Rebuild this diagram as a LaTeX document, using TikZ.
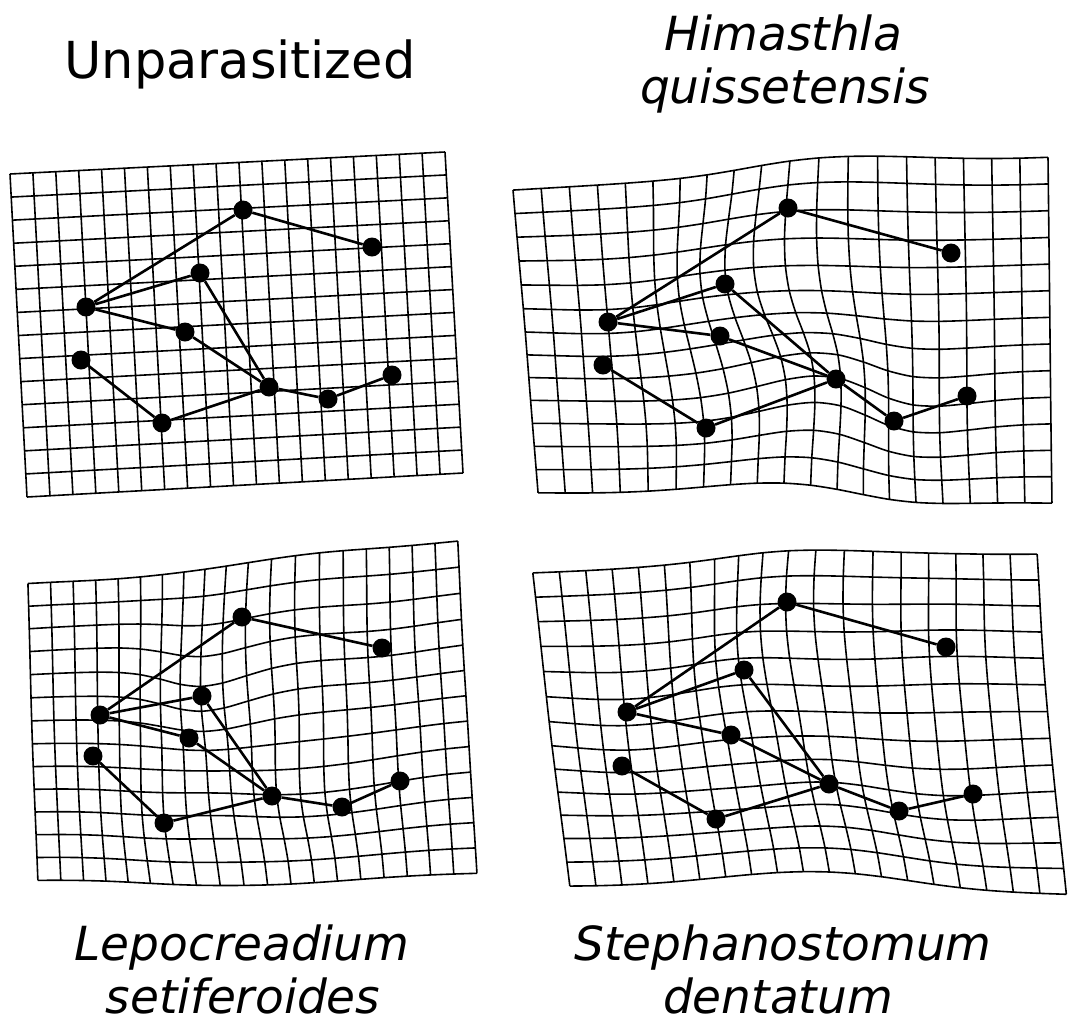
\documentclass[tikz,border=0pt]{standalone}
\usepackage{fontspec}
\setmainfont{DejaVu Sans}
\tikzset{
  gridline/.style={line width=1.6pt,line join=round},
  link/.style={line width=2.6pt},
  lm/.style={circle,fill=black,inner sep=0pt,minimum size=19pt},
  lab/.style={anchor=base,inner sep=0pt,font=\fontsize{47}{56}\selectfont\itshape},
  title/.style={anchor=base,inner sep=0pt,font=\fontsize{51}{60}\selectfont},
}
\newcommand\warpgrid[2]{%
  \foreach \i in {0,...,19}
    \draw[gridline] plot[smooth,variable=\t,domain=0:#1,samples=#2] ({fx(\i,\t)},{fy(\i,\t)});
  \foreach \j in {0,...,#1}
    \draw[gridline] plot[smooth,variable=\t,domain=0:19,samples=20] ({fx(\t,\j)},{fy(\t,\j)});
}
\begin{document}
\begin{tikzpicture}[x=1pt,y=-1pt,declare function={
  sq(\x)=\x*\x;
  g(\a,\b,\c,\d,\e,\f)=exp(-sq((\a-\c)/\e)-sq((\b-\d)/\f));
  bil(\u,\v,\p,\q,\r,\s)=(1-\u)*(1-\v)*\p+\u*(1-\v)*\q+(1-\u)*\v*\r+\u*\v*\s;}]
\useasboundingbox (0,0) rectangle (1068,1026);
\begin{scope}[declare function={
  fx(\a,\b)=bil(\a/19,\b/14,10,445,27,463);
  fy(\a,\b)=bil(\a/19,\b/14,174,152,497,473);}]
\warpgrid{14}{15}
\end{scope}
\begin{scope}[declare function={
  fx(\a,\b)=bil(\a/19,\b/13,513,1048,538,1052)-5*g(\a,\b,10.07,1.91,3,3)-17*g(\a,\b,8.05,4.36,3,3)
    +12*g(\a,\b,10.79,9.06,3,3)-5*g(\a,\b,13.34,9.67,3,3)+7*g(\a,\b,6.04,10.28,3,3)+2*g(\a,\b,3,5.49,3,3);
  fy(\a,\b)=bil(\a/19,\b/13,190,158,493,503)-8*g(\a,\b,10.07,1.91,3,3)-3*g(\a,\b,7.26,6.68,3,3)
    -28*g(\a,\b,10.79,9.06,3,3)+18*g(\a,\b,13.34,9.67,3,3)+3*g(\a,\b,6.04,10.28,3,3)
    -10*g(\a,\b,12.5,0,4,2.5)-13*g(\a,\b,8,13,4,2.5)+6*g(\a,\b,3,5.49,3,3);}]
\warpgrid{13}{14}
\end{scope}
\begin{scope}[declare function={
  fx(\a,\b)=bil(\a/19,\b/13,28,458,38,477)-7*g(\a,\b,8.5,6.5,6,4)-5*g(\a,\b,8.05,4.36,2.5,2.5)
    -8*g(\a,\b,10.07,1.91,3,3)-3*g(\a,\b,15.6,3.65,3,3)-4*g(\a,\b,13.5,9.2,3.5,2.5)
    -7*g(\a,\b,6.04,10.28,3,3)-4*g(\a,\b,10.79,9.06,2.5,2.5);
  fy(\a,\b)=bil(\a/19,\b/13,582,541,880,873)+10*g(\a,\b,8.5,6.5,6,4)+18*g(\a,\b,8.05,4.36,2.5,2.5)
    +3*g(\a,\b,10.07,1.91,3,3)+6*g(\a,\b,15.6,3.65,3,3)+10*g(\a,\b,13.5,9.2,3.5,2.5)
    +4*g(\a,\b,6.04,10.28,3,3)+4*g(\a,\b,10.79,9.06,2.5,2.5)+5*g(\a,\b,4.5,0,4,2)
    -3*g(\a,\b,13,0,4,2)+7*g(\a,\b,9.5,13,5,2.5);}]
\warpgrid{13}{14}
\end{scope}
\begin{scope}[declare function={
  fx(\a,\b)=bil(\a/19,\b/13,533,1038,570,1067)-11*g(\a,\b,11,6.5,7,5)-12*g(\a,\b,10.07,1.91,3,3)
    -6*g(\a,\b,8.05,4.36,2.5,2.5)-5*g(\a,\b,15.6,3.65,3,3)-3*g(\a,\b,15,9.2,3,3)-3*g(\a,\b,10.79,9.06,2.5,2.5);
  fy(\a,\b)=bil(\a/19,\b/13,573,555,887,895)-10*g(\a,\b,10.5,0,5,2.5)-4*g(\a,\b,10.07,1.91,3,3)
    -19*g(\a,\b,9.5,13,5.5,3)+9*g(\a,\b,2.8,6.5,3,3)+7*g(\a,\b,15,9.2,3,3)
    -6*g(\a,\b,10.79,9.06,2.5,2.5)-5*g(\a,\b,8.05,4.36,2.5,2.5)-5*g(\a,\b,15.6,3.65,3,3);}]
\warpgrid{13}{14}
\end{scope}
\foreach \n/\x/\y in {A/243/210,B/372/247,C/200/273,D/86/307,E/185/332,F/81/360,G/269/387,H/328/399,I/392/375,J/162/423}
  \node[lm] (u\n) at (\x,\y) {};
\foreach \n/\x/\y in {A/788/208,B/951/253,C/725/284,D/608/322,E/720/336,F/603/365,G/836/379,H/894/421,I/967/396,J/706/428}
  \node[lm] (h\n) at (\x,\y) {};
\foreach \n/\x/\y in {A/242/617,B/382/648,C/202/696,D/100/715,E/189/738,F/93/756,G/272/796,H/342/807,I/400/781,J/164/823}
  \node[lm] (l\n) at (\x,\y) {};
\foreach \n/\x/\y in {A/787/602,B/946/647,C/744/670,D/627/712,E/731/735,F/622/766,G/829/784,H/899/811,I/973/794,J/716/819}
  \node[lm] (s\n) at (\x,\y) {};
\foreach \p in {u,h,l,s}
  \draw[link] (\p D)--(\p A)--(\p B) (\p D)--(\p C)--(\p G) (\p D)--(\p E)--(\p G)
    (\p F)--(\p J)--(\p G)--(\p H)--(\p I);
\node[title] (tu) at (240,78) {Unparasitized};
\node[lab] (th1) at (783,50) {Himasthla};
\node[lab] (th2) at (785,103) {quissetensis};
\node[lab] (tl1) at (242,960) {Lepocreadium};
\node[lab] (tl2) at (243,1013) {setiferoides};
\node[lab] (ts1) at (783,960) {Stephanostomum};
\node[lab] (ts2) at (778,1013) {dentatum};
\end{tikzpicture}
\end{document}
